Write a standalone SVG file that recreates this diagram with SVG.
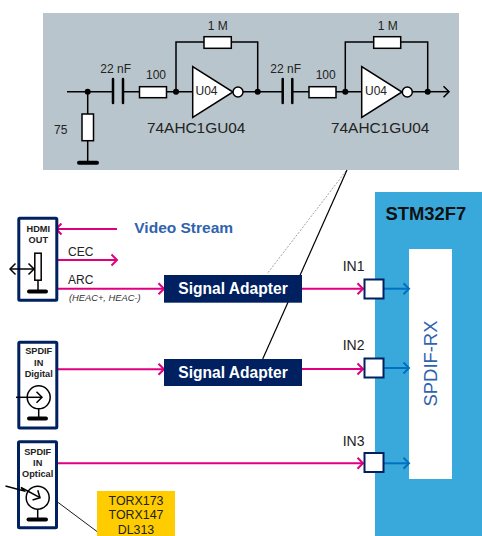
<svg xmlns="http://www.w3.org/2000/svg" width="482" height="536" viewBox="0 0 482 536">
<style>
text{font-family:"Liberation Sans",Arial,sans-serif}
.c{font-size:12px;fill:#222}
.m{text-anchor:middle}
.p{font-size:15.4px;fill:#222}
.w{fill:none;stroke:#000;stroke-width:1.5}
.r{fill:#fff;stroke:#000;stroke-width:1.5}
.g{fill:none;stroke:#000;stroke-width:4;stroke-linecap:round}
.cap{fill:none;stroke:#000;stroke-width:2.5;stroke-linecap:round}
.box{fill:#fff;stroke:#002060;stroke-width:3}
.lb{font-size:9.2px;font-weight:bold;fill:#222;text-anchor:middle}
.t{font-size:12px;fill:#222}
.sa{fill:#002060}
.sat{font-size:15.6px;font-weight:bold;fill:#fff;text-anchor:middle}
.pk{fill:none;stroke:#e0007f;stroke-width:2;marker-end:url(#ap)}
.bl{fill:none;stroke:#0070c0;stroke-width:2;marker-end:url(#ab)}
.in{fill:#fff;stroke:#002060;stroke-width:2}
.il{font-size:14px;fill:#222}
</style>
<defs>
<marker id="ap" markerUnits="userSpaceOnUse" markerWidth="10" markerHeight="14" refX="8.5" refY="7" orient="auto"><path d="M3 1.5L8.5 7L3 12.5" fill="none" stroke="#e0007f" stroke-width="2"/></marker>
<marker id="ab" markerUnits="userSpaceOnUse" markerWidth="10" markerHeight="14" refX="8.5" refY="7" orient="auto"><path d="M3 1.5L8.5 7L3 12.5" fill="none" stroke="#0070c0" stroke-width="2"/></marker>
<marker id="ak" markerUnits="userSpaceOnUse" markerWidth="10" markerHeight="14" refX="8.5" refY="7" orient="auto-start-reverse"><path d="M3 1.5L8.5 7L3 12.5" fill="none" stroke="#000" stroke-width="1.5"/></marker>
</defs>

<g id="stm32">
<rect x="375" y="192" width="107" height="344" fill="#39a9dc"/>
<text x="385.5" y="220" font-size="18.4" font-weight="bold" fill="#111">STM32F7</text>
</g>
<g id="spdif-rx">
<rect x="409" y="249" width="43" height="230" fill="#fff"/>
<text transform="translate(436.5 363.5) rotate(-90)" font-size="18.4" fill="#2f63ad" text-anchor="middle">SPDIF-RX</text>
</g>

<g id="schematic">
<rect x="43" y="13" width="416" height="157" fill="#b9c5cc"/>
<path class="w" d="M67 91.7H113M123 91.7H139.5M166.500 91.700H192.700M243 91.700H283M292.300 91.700H309M336 91.700H361.700M412.500 91.700H427.700"/>
<path class="w" d="M427.700 91.700H449" marker-end="url(#ak)"/>
<path class="w" d="M87.700 91.700V114M87.700 140.700V162M176 91.700V42H204M231.300 42H257.700V91.700M345.300 91.700V42H373.700M400.700 42H427.700V91.700"/>
<path class="cap" d="M113 79V103M123 79V103M282.700 79V103M292.300 79V103"/>
<path class="g" d="M79 162.700H97"/>
<rect class="r" x="82" y="114" width="11.500" height="26.700"/>
<rect class="r" x="139.500" y="86.700" width="27" height="11"/>
<rect class="r" x="204" y="36.700" width="27.300" height="11.600"/>
<rect class="r" x="309" y="86.700" width="27" height="11"/>
<rect class="r" x="373.700" y="36.700" width="27" height="11.600"/>
<path class="r" d="M192.700 66.700V117.300L233 92Z"/>
<circle class="r" cx="238" cy="92" r="5"/>
<path class="r" d="M361.700 66.700V117.300L402 92Z"/>
<circle class="r" cx="407.300" cy="92" r="5"/>
<g fill="#000">
<circle cx="87.700" cy="91.700" r="3"/><circle cx="176" cy="91.700" r="3"/><circle cx="257.700" cy="91.700" r="3"/><circle cx="345.300" cy="91.700" r="3"/><circle cx="427.700" cy="91.700" r="3"/>
</g>
<text class="c m" x="217.700" y="30">1 M</text>
<text class="c m" x="387.700" y="30">1 M</text>
<text class="c m" x="115.700" y="73">22 nF</text>
<text class="c m" x="285.700" y="73">22 nF</text>
<text class="c m" x="156" y="79">100</text>
<text class="c m" x="325.700" y="79">100</text>
<text class="c" x="54" y="134">75</text>
<text class="c" x="195.500" y="95">U04</text>
<text class="c" x="365" y="95">U04</text>
<text class="p" x="147" y="133">74AHC1GU04</text>
<text class="p" x="331" y="133">74AHC1GU04</text>
</g>

<g id="connectors">
<path d="M346 171L267 274" fill="none" stroke="#777" stroke-width="0.700" stroke-dasharray="2 1.500"/>
<path d="M347 170L262.700 359" fill="none" stroke="#000" stroke-width="1.200"/>
<path d="M57.500 502L97 531.500" fill="none" stroke="#000" stroke-width="0.900"/>
<path d="M117 229H56" fill="none" stroke="#e0007f" stroke-width="2" marker-end="url(#ap)"/>
<path class="pk" d="M56 260H117"/>
<path class="pk" d="M56 288.700H164"/>
<path class="pk" d="M57 369.300H164"/>
<path class="pk" d="M56 463.300H363"/>
<path class="pk" d="M302 288.700H363"/>
<path class="pk" d="M302 369H363"/>
<path class="bl" d="M384 288.700H409"/>
<path class="bl" d="M384 368H409"/>
<path class="bl" d="M384 463.300H409"/>
</g>

<g id="video-stream"><text x="134.300" y="233" font-size="15.500" font-weight="bold" fill="#2f63ad">Video Stream</text></g>
<g id="link-labels">
<text class="t" x="68" y="256">CEC</text>
<text class="t" x="68" y="284">ARC</text>
<text x="69" y="301" font-size="9.300" font-style="italic" fill="#333">(HEAC+, HEAC-)</text>
</g>

<g id="hdmi-out">
<rect class="box" x="18.800" y="218.200" width="38" height="82" rx="1"/>
<text class="lb" x="38.300" y="232">HDMI</text>
<text class="lb" x="38.300" y="243">OUT</text>
<rect x="34.800" y="253.200" width="6.400" height="27" fill="#fff" stroke="#000" stroke-width="1.500"/>
<path class="w" d="M38 280.200V291"/>
<path class="g" d="M29 291.500H46"/>
<path d="M10 269H34" fill="none" stroke="#000" stroke-width="1.500" marker-start="url(#ak)" marker-end="url(#ak)"/>
</g>

<g id="spdif-digital">
<rect class="box" x="18.800" y="342.200" width="38" height="85.700" rx="1"/>
<text class="lb" x="38.700" y="353.700">SPDIF</text>
<text class="lb" x="38.700" y="365.700">IN</text>
<text class="lb" x="38.700" y="377">Digital</text>
<circle cx="38.700" cy="397.300" r="11.500" fill="#fff" stroke="#000" stroke-width="1.500"/>
<path d="M16 397.300H42" fill="none" stroke="#000" stroke-width="1.500" marker-end="url(#ak)"/>
<path class="w" d="M38.700 408.800V418"/>
<path class="g" d="M29 418.500H46"/>
</g>

<g id="spdif-optical">
<rect class="box" x="18.500" y="441.800" width="38" height="86" rx="1"/>
<text class="lb" x="37.700" y="455">SPDIF</text>
<text class="lb" x="37.700" y="466">IN</text>
<text class="lb" x="37.700" y="477">Optical</text>
<circle cx="37.700" cy="497.700" r="11.500" fill="#fff" stroke="#000" stroke-width="1.500"/>
<path d="M5.500 486L24 491L21 487.500L40 497.700" fill="none" stroke="#000" stroke-width="1.500" marker-end="url(#ak)"/>
<path class="w" d="M37.700 509.200V519"/>
<path class="g" d="M28.500 519.500H46"/>
</g>

<g id="torx">
<rect x="97" y="491" width="78" height="45" fill="#ffcc00"/>
<text x="136" y="504.500" font-size="12.400" fill="#222" text-anchor="middle">TORX173</text>
<text x="136" y="519" font-size="12.400" fill="#222" text-anchor="middle">TORX147</text>
<text x="136" y="534" font-size="12.400" fill="#222" text-anchor="middle">DL313</text>
</g>

<g id="adapter-1"><rect class="sa" x="164" y="275" width="138" height="27.700"/><text class="sat" x="233" y="293.500">Signal Adapter</text></g>
<g id="adapter-2"><rect class="sa" x="164" y="359" width="138" height="27"/><text class="sat" x="233" y="377.500">Signal Adapter</text></g>

<g id="in1"><rect class="in" x="364.500" y="279.500" width="19" height="19"/><text class="il" x="342.700" y="270.700">IN1</text></g>
<g id="in2"><rect class="in" x="364.500" y="358.500" width="19" height="19"/><text class="il" x="342.700" y="350">IN2</text></g>
<g id="in3"><rect class="in" x="364.500" y="453" width="19" height="19"/><text class="il" x="342.700" y="446">IN3</text></g>
</svg>
